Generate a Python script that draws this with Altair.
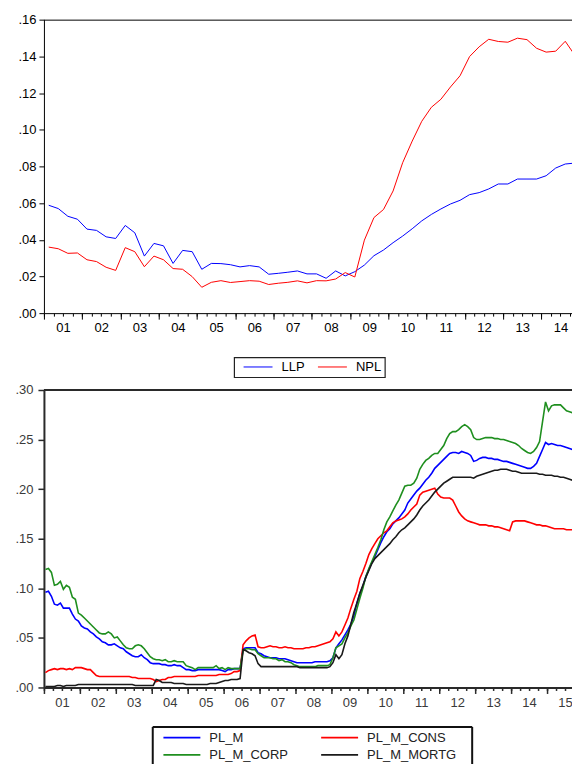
import altair as alt
import pandas as pd

# ---------------- data ----------------
TOP_SERIES = ["LLP", "NPL"]
TOP_COLORS = ["#0000ff", "#ff0000"]
LLP = [0.0588, 0.0570, 0.0528, 0.0512, 0.0458, 0.0451, 0.0416, 0.0407,
       0.0478, 0.0438, 0.0311, 0.0380, 0.0367, 0.0271, 0.0342, 0.0335,
       0.0239, 0.0271, 0.0270, 0.0264, 0.0252, 0.0259, 0.0252, 0.0212,
       0.0217, 0.0223, 0.0230, 0.0214, 0.0214, 0.0190, 0.0230, 0.0203,
       0.0226, 0.0262, 0.0313, 0.0344, 0.0384, 0.0420, 0.0460, 0.0503,
       0.0538, 0.0568, 0.0595, 0.0615, 0.0646, 0.0657, 0.0677, 0.0704,
       0.0704, 0.0731, 0.0731, 0.0731, 0.0749, 0.0791, 0.0813, 0.0818]
NPL = [0.0360, 0.0351, 0.0326, 0.0328, 0.0291, 0.0281, 0.0250, 0.0233,
       0.0357, 0.0335, 0.0253, 0.0311, 0.0291, 0.0243, 0.0239, 0.0199,
       0.0141, 0.0168, 0.0177, 0.0167, 0.0172, 0.0177, 0.0174, 0.0156,
       0.0163, 0.0168, 0.0176, 0.0165, 0.0177, 0.0176, 0.0186, 0.0221,
       0.0197, 0.0398, 0.0521, 0.0565, 0.0666, 0.0820, 0.0938, 0.1046,
       0.1122, 0.1166, 0.1233, 0.1294, 0.1399, 0.1452, 0.1493, 0.1481,
       0.1477, 0.1499, 0.1491, 0.1444, 0.1423, 0.1428, 0.1482, 0.1406]
TOP_YEAR_LABELS = ["01", "02", "03", "04", "05", "06", "07", "08", "09",
                   "10", "11", "12", "13", "14"]
TOP_Y_VALUES = [0, 0.02, 0.04, 0.06, 0.08, 0.1, 0.12, 0.14, 0.16]
TOP_Y_LABELS = [".00", ".02", ".04", ".06", ".08", ".10", ".12", ".14", ".16"]

BOT_SERIES = ["PL_M", "PL_M_CONS", "PL_M_CORP", "PL_M_MORTG"]
BOT_COLORS = ["#0000ff", "#ff0000", "#1f8f1f", "#1a1a1a"]
PL_M = [
    0.096, 0.097, 0.092, 0.084, 0.083, 0.085, 0.080, 0.080, 0.080, 0.074, 0.069, 0.067,
    0.062, 0.060, 0.059, 0.056, 0.054, 0.051, 0.049, 0.046, 0.045, 0.043, 0.043, 0.044,
    0.042, 0.040, 0.039, 0.036, 0.034, 0.032, 0.031, 0.031, 0.033, 0.030, 0.028, 0.025,
    0.024, 0.024, 0.024, 0.023, 0.023, 0.022, 0.022, 0.023, 0.022, 0.022, 0.020, 0.018,
    0.018, 0.017, 0.017, 0.018, 0.018, 0.018, 0.018, 0.018, 0.018, 0.018, 0.018, 0.017,
    0.016, 0.018, 0.018, 0.019, 0.019, 0.019, 0.039, 0.040, 0.040, 0.040, 0.040, 0.035,
    0.034, 0.032, 0.031, 0.030, 0.030, 0.030, 0.029, 0.029, 0.029, 0.028, 0.027, 0.026,
    0.025, 0.025, 0.025, 0.025, 0.025, 0.025, 0.026, 0.026, 0.026, 0.026, 0.026, 0.027,
    0.030, 0.040, 0.044, 0.048, 0.053, 0.058, 0.064, 0.072, 0.085, 0.095, 0.102, 0.112,
    0.119, 0.126, 0.132, 0.139, 0.146, 0.152, 0.157, 0.160, 0.165, 0.168, 0.171, 0.175,
    0.179, 0.186, 0.190, 0.194, 0.198, 0.201, 0.205, 0.209, 0.212, 0.216, 0.221, 0.224,
    0.227, 0.230, 0.233, 0.236, 0.237, 0.237, 0.236, 0.238, 0.237, 0.236, 0.234, 0.228,
    0.229, 0.231, 0.232, 0.232, 0.231, 0.231, 0.230, 0.230, 0.229, 0.228, 0.228, 0.227,
    0.226, 0.225, 0.224, 0.223, 0.222, 0.221, 0.221, 0.223, 0.226, 0.233, 0.240, 0.247,
    0.245, 0.246, 0.245, 0.244, 0.244, 0.243, 0.242, 0.241, 0.240, 0.238, 0.236, 0.234]
PL_M_CONS = [
    0.015, 0.017, 0.018, 0.019, 0.018, 0.019, 0.019, 0.018, 0.019, 0.018, 0.020, 0.020,
    0.020, 0.019, 0.018, 0.018, 0.015, 0.012, 0.011, 0.011, 0.011, 0.011, 0.011, 0.011,
    0.011, 0.011, 0.011, 0.011, 0.011, 0.010, 0.010, 0.009, 0.009, 0.009, 0.009, 0.009,
    0.008, 0.006, 0.007, 0.008, 0.008, 0.010, 0.010, 0.011, 0.011, 0.011, 0.011, 0.011,
    0.011, 0.011, 0.011, 0.012, 0.012, 0.012, 0.012, 0.012, 0.012, 0.012, 0.013, 0.013,
    0.013, 0.013, 0.014, 0.016, 0.016, 0.017, 0.043, 0.047, 0.050, 0.052, 0.053, 0.041,
    0.040, 0.040, 0.041, 0.042, 0.041, 0.041, 0.040, 0.040, 0.041, 0.040, 0.040, 0.039,
    0.039, 0.039, 0.039, 0.040, 0.040, 0.041, 0.041, 0.042, 0.043, 0.044, 0.045, 0.046,
    0.049, 0.056, 0.052, 0.056, 0.063, 0.070, 0.080, 0.089, 0.097, 0.110, 0.117, 0.125,
    0.134, 0.140, 0.145, 0.150, 0.153, 0.156, 0.158, 0.162, 0.166, 0.168, 0.169, 0.170,
    0.172, 0.175, 0.179, 0.182, 0.185, 0.194, 0.197, 0.198, 0.199, 0.200, 0.201, 0.195,
    0.192, 0.191, 0.191, 0.191, 0.189, 0.183, 0.177, 0.173, 0.170, 0.168, 0.167, 0.166,
    0.165, 0.164, 0.164, 0.164, 0.163, 0.163, 0.162, 0.162, 0.161, 0.160, 0.159, 0.158,
    0.167, 0.168, 0.168, 0.168, 0.168, 0.167, 0.166, 0.165, 0.164, 0.164, 0.163, 0.163,
    0.162, 0.161, 0.160, 0.160, 0.160, 0.160, 0.159, 0.159, 0.159, 0.158, 0.155, 0.154]
PL_M_CORP = [
    0.119, 0.120, 0.116, 0.103, 0.104, 0.107, 0.099, 0.103, 0.101, 0.091, 0.089, 0.075,
    0.073, 0.070, 0.067, 0.064, 0.061, 0.058, 0.055, 0.054, 0.054, 0.056, 0.054, 0.050,
    0.051, 0.047, 0.043, 0.040, 0.039, 0.039, 0.042, 0.043, 0.042, 0.039, 0.035, 0.031,
    0.029, 0.028, 0.028, 0.027, 0.028, 0.026, 0.026, 0.027, 0.026, 0.026, 0.026, 0.022,
    0.021, 0.020, 0.018, 0.020, 0.020, 0.020, 0.020, 0.020, 0.020, 0.022, 0.019, 0.020,
    0.018, 0.020, 0.019, 0.019, 0.019, 0.019, 0.037, 0.039, 0.039, 0.038, 0.038, 0.034,
    0.032, 0.030, 0.030, 0.030, 0.029, 0.029, 0.027, 0.028, 0.026, 0.026, 0.025, 0.023,
    0.022, 0.021, 0.021, 0.021, 0.021, 0.021, 0.021, 0.022, 0.022, 0.022, 0.022, 0.023,
    0.030, 0.040, 0.042, 0.044, 0.050, 0.055, 0.062, 0.068, 0.079, 0.090, 0.100, 0.112,
    0.120, 0.127, 0.134, 0.141, 0.149, 0.159, 0.167, 0.172, 0.178, 0.184, 0.189, 0.196,
    0.203, 0.204, 0.204, 0.206, 0.211, 0.220, 0.225, 0.229, 0.231, 0.234, 0.236, 0.236,
    0.240, 0.244, 0.251, 0.256, 0.258, 0.258, 0.260, 0.263, 0.265, 0.263, 0.260, 0.252,
    0.250, 0.250, 0.251, 0.252, 0.252, 0.252, 0.251, 0.251, 0.250, 0.250, 0.249, 0.248,
    0.247, 0.246, 0.244, 0.241, 0.239, 0.237, 0.236, 0.238, 0.242, 0.248, 0.268, 0.288,
    0.279, 0.284, 0.285, 0.285, 0.285, 0.282, 0.279, 0.278, 0.277, 0.275, 0.273, 0.272]
PL_M_MORTG = [
    0.001, 0.001, 0.001, 0.001, 0.002, 0.002, 0.001, 0.002, 0.002, 0.002, 0.002, 0.003,
    0.003, 0.003, 0.003, 0.003, 0.003, 0.003, 0.003, 0.003, 0.003, 0.003, 0.003, 0.003,
    0.003, 0.003, 0.003, 0.003, 0.003, 0.003, 0.002, 0.002, 0.002, 0.002, 0.002, 0.002,
    0.002, 0.008, 0.007, 0.005, 0.005, 0.005, 0.005, 0.004, 0.004, 0.004, 0.004, 0.003,
    0.003, 0.003, 0.003, 0.003, 0.003, 0.003, 0.003, 0.004, 0.004, 0.004, 0.005, 0.006,
    0.007, 0.007, 0.008, 0.008, 0.008, 0.009, 0.038, 0.037, 0.035, 0.034, 0.032, 0.024,
    0.021, 0.021, 0.021, 0.021, 0.021, 0.021, 0.021, 0.021, 0.021, 0.021, 0.021, 0.021,
    0.021, 0.020, 0.020, 0.020, 0.020, 0.020, 0.020, 0.020, 0.020, 0.020, 0.020, 0.021,
    0.025, 0.033, 0.029, 0.033, 0.044, 0.052, 0.064, 0.076, 0.085, 0.095, 0.103, 0.111,
    0.118, 0.125, 0.130, 0.133, 0.136, 0.139, 0.142, 0.145, 0.149, 0.152, 0.156, 0.159,
    0.161, 0.164, 0.167, 0.170, 0.174, 0.179, 0.183, 0.186, 0.189, 0.193, 0.197, 0.200,
    0.203, 0.206, 0.208, 0.210, 0.212, 0.212, 0.212, 0.212, 0.212, 0.212, 0.212, 0.211,
    0.213, 0.214, 0.215, 0.216, 0.217, 0.218, 0.219, 0.219, 0.220, 0.220, 0.220, 0.219,
    0.218, 0.218, 0.217, 0.216, 0.216, 0.216, 0.216, 0.216, 0.216, 0.215, 0.215, 0.214,
    0.214, 0.214, 0.213, 0.213, 0.212, 0.212, 0.211, 0.210, 0.209, 0.207, 0.205, 0.203]
BOT_YEAR_LABELS = ["01", "02", "03", "04", "05", "06", "07", "08", "09",
                   "10", "11", "12", "13", "14", "15"]
BOT_Y_VALUES = [0, 0.05, 0.1, 0.15, 0.2, 0.25, 0.3]
BOT_Y_LABELS = [".00", ".05", ".10", ".15", ".20", ".25", ".30"]

# ---------------- tables ----------------
top_rows = []
for name, vals in zip(TOP_SERIES, [LLP, NPL]):
    for k, v in enumerate(vals):
        top_rows.append({"t": 2001 + (k + 0.5) / 4, "series": name, "value": v})
top_df = pd.DataFrame(top_rows)

bot_rows = []
for name, vals in zip(BOT_SERIES, [PL_M, PL_M_CONS, PL_M_CORP, PL_M_MORTG]):
    for m, v in enumerate(vals):
        bot_rows.append({"t": 2001 + (m + 0.5) / 12, "series": name, "value": v})
bot_df = pd.DataFrame(bot_rows)

one = pd.DataFrame({"a": [0]})

# ---------------- layout ----------------
W = 536
TOP_H = 294
BOT_H = 298
TOP_XMAX = 2001 + W / 38.33
BOT_XMAX = 2001 + W / 36.0
FONT = "Liberation Sans"


def arr_expr(labels, idx):
    return "[" + ",".join("'%s'" % s for s in labels) + "][" + idx + "]"


# ---------------- top panel ----------------
xs_top = alt.Scale(domain=[2001, TOP_XMAX], nice=False, zero=False)
ys_top = alt.Scale(domain=[0, 0.16], nice=False)
y_axis_top = alt.Axis(
    values=TOP_Y_VALUES, labelExpr=arr_expr(TOP_Y_LABELS, "round(datum.value*50)"),
    tickSize=5, tickColor="black", domainColor="black", domainWidth=1, labelPadding=3,
    labelFontSize=13, labelColor="black", labelFont=FONT, grid=False, title=None,
    labelFlush=False, labelOverlap=False)

top_major = [float(y) for y in range(2001, 2015)]
top_minor = [2001 + q / 4 for q in range(0, 56)]
top_lab = [y + 0.5 for y in range(2001, 2015)]

top_lines = alt.Chart(top_df).mark_line(strokeWidth=1, clip=True).encode(
    x=alt.X("t:Q", scale=xs_top, axis=alt.Axis(
        orient="bottom", values=top_major, labels=False, tickSize=6, tickColor="black",
        domainColor="black", domainWidth=1, grid=False, title=None)),
    y=alt.Y("value:Q", scale=ys_top, axis=y_axis_top),
    color=alt.Color("series:N", scale=alt.Scale(domain=TOP_SERIES, range=TOP_COLORS),
                    legend=alt.Legend(orient="none", legendX=190.5, legendY=338.2,
                                      direction="horizontal", title=None, strokeColor="#222",
                                      fillColor="white", padding=3, symbolType="M0,0L6,0",
                                      symbolSize=93.4, symbolStrokeWidth=1, labelFont=FONT,
                                      labelFontSize=13, labelColor="black", labelOffset=31.5,
                                      columnPadding=6.5)),
)
top_minor_ax = alt.Chart(top_df).mark_line(opacity=0, clip=True).encode(
    x=alt.X("t:Q", scale=xs_top, axis=alt.Axis(
        orient="bottom", values=top_minor, labels=False, tickSize=3, tickColor="black",
        domain=False, grid=False, title=None)),
    y=alt.Y("value:Q", scale=ys_top, axis=y_axis_top),
    detail="series:N",
)
top_label_ax = alt.Chart(top_df).mark_line(opacity=0, clip=True).encode(
    x=alt.X("t:Q", scale=xs_top, axis=alt.Axis(
        orient="bottom", values=top_lab, ticks=False, tickSize=0, domain=False, grid=False,
        title=None, labelPadding=8, labelFontSize=13, labelColor="black", labelFont=FONT,
        labelExpr=arr_expr(TOP_YEAR_LABELS, "floor(datum.value)-2001"),
        labelFlush=False, labelOverlap=False)),
    y=alt.Y("value:Q", scale=ys_top, axis=y_axis_top),
    detail="series:N",
)
top_border = alt.Chart(one).mark_rule(color="black", strokeWidth=1).encode(
    x=alt.value(0), x2=alt.value(W), y=alt.value(0.5))
# invisible anchor fixing the page margin (top-left corner of the whole figure)
anchor = alt.Chart(one).mark_rule(opacity=0, strokeWidth=0).encode(
    x=alt.value(-36), y=alt.value(-11), y2=alt.value(0))

top = alt.layer(top_lines, top_minor_ax, top_label_ax, top_border, anchor).resolve_axis(
    x="independent").properties(width=W, height=TOP_H)

# ---------------- bottom panel ----------------
xs_bot = alt.Scale(domain=[2001, BOT_XMAX], nice=False, zero=False)
ys_bot = alt.Scale(domain=[0, 0.30], nice=False)
AX = "#2a2a2a"
y_axis_bot = alt.Axis(
    values=BOT_Y_VALUES, labelExpr=arr_expr(BOT_Y_LABELS, "round(datum.value*20)"),
    tickSize=6, tickColor=AX, tickWidth=1.5, domainColor=AX, domainWidth=2, labelPadding=5,
    labelFontSize=13, labelColor="#3a3a3a", labelFont=FONT, grid=False, title=None,
    labelFlush=False, labelOverlap=False)

bot_major = [float(y) for y in range(2001, 2016)]
bot_minor = [2001 + q / 4 for q in range(0, 60)]
bot_lab = [y + 0.5 for y in range(2001, 2016)]

bot_lines = alt.Chart(bot_df).mark_line(strokeWidth=1.6, clip=True).encode(
    x=alt.X("t:Q", scale=xs_bot, axis=alt.Axis(
        orient="bottom", values=bot_major, labels=False, tickSize=6, tickColor=AX,
        tickWidth=1.5, domainColor=AX, domainWidth=2, grid=False, title=None)),
    y=alt.Y("value:Q", scale=ys_bot, axis=y_axis_bot),
    color=alt.Color("series:N", scale=alt.Scale(domain=BOT_SERIES, range=BOT_COLORS),
                    legend=alt.Legend(orient="none", legendX=108.2, legendY=336.5,
                                      direction="horizontal", columns=2, title=None,
                                      padding=5, symbolType="M0,0L8,0", symbolSize=85.6,
                                      symbolStrokeWidth=1.6, labelFont=FONT, labelFontSize=13,
                                      labelColor="#222", labelOffset=39.5, columnPadding=26,
                                      rowPadding=3.5)),
)
bot_minor_ax = alt.Chart(bot_df).mark_line(opacity=0, clip=True).encode(
    x=alt.X("t:Q", scale=xs_bot, axis=alt.Axis(
        orient="bottom", values=bot_minor, labels=False, tickSize=3, tickColor=AX,
        tickWidth=1.5, domain=False, grid=False, title=None)),
    y=alt.Y("value:Q", scale=ys_bot, axis=y_axis_bot),
    detail="series:N",
)
bot_label_ax = alt.Chart(bot_df).mark_line(opacity=0, clip=True).encode(
    x=alt.X("t:Q", scale=xs_bot, axis=alt.Axis(
        orient="bottom", values=bot_lab, ticks=False, tickSize=0, domain=False, grid=False,
        title=None, labelPadding=9, labelFontSize=13, labelColor="#3a3a3a", labelFont=FONT,
        labelExpr=arr_expr(BOT_YEAR_LABELS, "floor(datum.value)-2001"),
        labelFlush=False, labelOverlap=False)),
    y=alt.Y("value:Q", scale=ys_bot, axis=y_axis_bot),
    detail="series:N",
)
bot_border = alt.Chart(one).mark_rule(color=AX, strokeWidth=2).encode(
    x=alt.value(0), x2=alt.value(W), y=alt.value(0))
# frame of the legend box (its lower edge lies below the picture)
box_top = alt.Chart(one).mark_rule(color="#111", strokeWidth=2).encode(
    x=alt.value(109), x2=alt.value(429), y=alt.value(337.5))
box_left = alt.Chart(one).mark_rule(color="#111", strokeWidth=2).encode(
    x=alt.value(109), y=alt.value(337.5), y2=alt.value(385))
box_right = alt.Chart(one).mark_rule(color="#111", strokeWidth=2).encode(
    x=alt.value(429), y=alt.value(337.5), y2=alt.value(385))

bottom = alt.layer(bot_lines, bot_minor_ax, bot_label_ax, bot_border,
                   box_top, box_left, box_right).resolve_axis(
    x="independent").properties(width=W, height=BOT_H)

chart = alt.vconcat(top, bottom, spacing=77, bounds="flush").resolve_scale(
    color="independent").properties(
    padding={"left": 0, "top": 0, "right": -8, "bottom": -12},
    background="white").configure_view(stroke=None).configure_legend(strokeWidth=1.2)

chart.save("out.html", embed_options={"renderer": "svg", "actions": False})
